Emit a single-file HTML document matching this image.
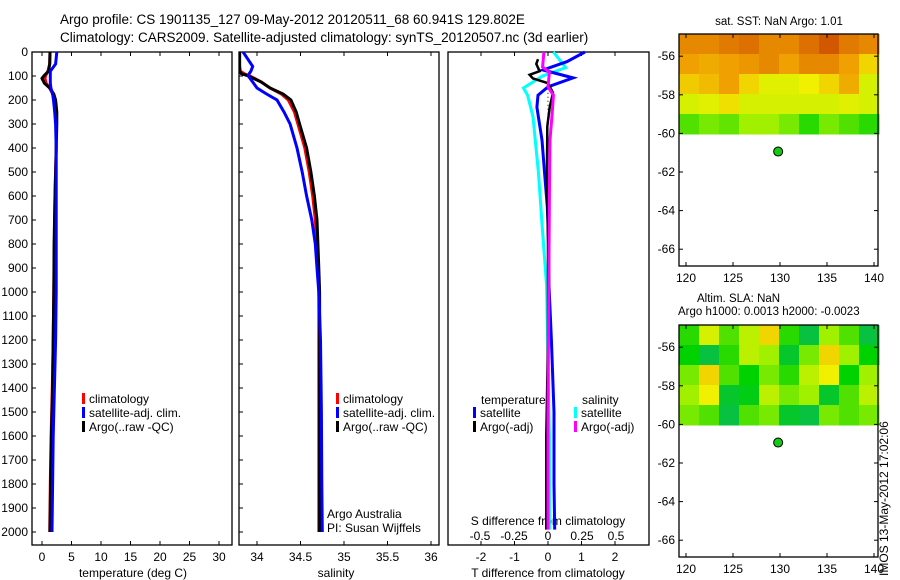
<!DOCTYPE html>
<html><head><meta charset="utf-8"><style>
body{margin:0;background:#fff}
svg{display:block;font-family:"Liberation Sans",sans-serif}
text{fill:#000}
</style></head><body>
<svg id="c" width="900" height="580" viewBox="0 0 900 580" xmlns="http://www.w3.org/2000/svg">
<text x="60" y="24" font-size="13.5">Argo profile: CS 1901135_127 09-May-2012 20120511_68 60.941S 129.802E</text>
<text x="60" y="42" font-size="13.5">Climatology: CARS2009. Satellite-adjusted climatology: synTS_20120507.nc (3d earlier)</text>
<g id="g"></g>
</svg>
<script>
// ---- data ----
const depthTicks=[0,100,200,300,400,500,600,700,800,900,1000,1100,1200,1300,1400,1500,1600,1700,1800,1900,2000];
const tempTicks=[0,5,10,15,20,25,30];
const salTicks=[34,34.5,35,35.5,36];
const tdiffTicks=[-2,-1,0,1,2];
const sdiffTicks=[-0.5,-0.25,0,0.25,0.5];
const sdiffLabels=["-0.5","-0.25","0","0.25","0.5"];
const latTicks=[-56,-58,-60,-62,-64,-66];
const lonTicks=[120,125,130,135,140];

const tDepth=[0,50,80,100,110,130,150,175,200,250,300,400,600,800,1000,1200,1400,1600,1800,2000];
const tArgo=[1.35,1.3,1.1,0.3,0.0,0.4,1.3,2.0,2.3,2.5,2.5,2.4,2.2,2.05,2.0,1.9,1.8,1.6,1.45,1.35];
const tClim=[1.35,1.3,1.0,0.6,0.5,0.7,1.3,1.8,2.1,2.3,2.4,2.4,2.2,2.1,2.0,1.9,1.75,1.55,1.4,1.3];
const tSat=[2.5,2.3,1.4,1.4,1.4,1.4,1.5,1.8,1.95,2.15,2.3,2.4,2.4,2.4,2.4,2.3,2.1,1.9,1.8,1.7];

const sDepth=[0,60,80,90,100,125,150,175,200,250,300,400,500,600,700,800,900,1000,1200,1500,1800,2000];
const sArgo=[33.8,33.8,33.8,33.82,33.9,34.05,34.15,34.3,34.39,34.45,34.49,34.57,34.62,34.66,34.69,34.7,34.71,34.72,34.72,34.72,34.72,34.72];
const sClim=[33.8,33.8,33.81,33.85,33.92,34.05,34.15,34.28,34.36,34.43,34.47,34.55,34.6,34.64,34.67,34.69,34.7,34.71,34.71,34.71,34.71,34.71];
const sSat=[33.84,33.95,33.93,33.91,33.9,33.95,34.0,34.11,34.23,34.31,34.38,34.46,34.52,34.57,34.63,34.67,34.69,34.71,34.73,34.74,34.745,34.75];

const bDepth=[0,40,75,108,145,180,230,367,505,645,780,975,1200,1500,1800,1990];
const tSatDiff=[1.1,0.57,-0.15,0.75,0.0,-0.3,-0.33,-0.18,-0.1,-0.02,0.02,0.03,0.1,0.18,0.18,0.2];
const cDepth=[0,65,100,150,180,270,505,710,975,1300,1600,1990];
const sSatDiff=[0.04,0.13,-0.04,-0.18,-0.15,-0.11,-0.07,-0.045,-0.01,0.0,0.01,0.01];
const kDepth=[30,50,80,95,110,130,170,230,310,500,800,1200,1600,1990];
const tArgoDiff=[-0.3,-0.35,-0.25,-0.55,-0.45,0.0,0.15,0.05,-0.02,-0.03,0.0,0.0,-0.05,-0.05];
const mDepth=[0,62,85,145,180,260,365,600,1000,1500,1990];
const sArgoDiff=[-0.03,-0.04,0.01,0.0,0.04,0.03,0.015,0.01,0.005,0.0,0.0];

const sstGrid=[
[0.85,0.85,0.88,0.9,0.85,0.85,0.9,0.95,0.88,0.85],
[0.8,0.78,0.8,0.82,0.85,0.8,0.85,0.85,0.8,0.7],
[0.72,0.75,0.8,0.7,0.62,0.62,0.65,0.7,0.78,0.6],
[0.6,0.62,0.68,0.6,0.6,0.6,0.6,0.6,0.62,0.6],
[0.4,0.45,0.42,0.5,0.5,0.45,0.35,0.45,0.4,0.35]];
const slaGrid=[
[0.35,0.6,0.4,0.55,0.7,0.35,0.15,0.5,0.4,0.15],
[0.3,0.15,0.35,0.55,0.5,0.2,0.45,0.7,0.5,0.3],
[0.45,0.7,0.4,0.3,0.45,0.35,0.55,0.65,0.3,0.5],
[0.5,0.65,0.2,0.25,0.55,0.45,0.5,0.2,0.4,0.55],
[0.45,0.4,0.15,0.4,0.45,0.2,0.15,0.45,0.4,0.45]];
const argoLon=129.802, argoLat=-60.941;

// ---- helpers ----
const NS="http://www.w3.org/2000/svg";
const G=document.getElementById('g');
function mk(tag,at,parent){const e=document.createElementNS(NS,tag);for(const k in at)e.setAttribute(k,at[k]);(parent||G).appendChild(e);return e;}
function txt(x,y,s,size,anchor){const e=mk('text',{x:x,y:y,'font-size':size||12,'text-anchor':anchor||'start'});e.textContent=s;return e;}
const yD=d=>52+d*0.24;
const PB=545;
const xT=v=>42+v*5.9;
const xS=v=>257+(v-34)*87;
const xTd=v=>548+v*33.5;
const xSd=v=>548+v*136;

function frame(x0,x1,name){const r=mk('rect',{x:x0,y:52,width:x1-x0,height:PB-52,fill:'none',stroke:'#000','stroke-width':1.3});

}
function line(xs,ds,fx,color,w,name){
 const p=xs.map((v,i)=>fx(v).toFixed(1)+','+yD(ds[i]).toFixed(1)).join(' ');
 const e=mk('polyline',{points:p,fill:'none',stroke:color,'stroke-width':w,'stroke-linejoin':'miter'});
 
 
}
function legend(x,y,color,label){
 const r=mk('rect',{x:x,y:y-10,width:3,height:11,fill:color});
 
 
 const t=txt(x+7,y,label,12);
 
 
}

// ---- panel 1 temperature ----
frame(32,232,'temperature-panel');
depthTicks.forEach(d=>{mk('line',{x1:32,x2:36,y1:yD(d),y2:yD(d),stroke:'#000'});
 const t=txt(28,yD(d)+4,String(d),12,'end');
 
 });
tempTicks.forEach(v=>{mk('line',{x1:xT(v),x2:xT(v),y1:52,y2:56,stroke:'#000'});mk('line',{x1:xT(v),x2:xT(v),y1:PB,y2:PB-4,stroke:'#000'});
 const t=txt(xT(v),561,String(v),12,'middle');
 
 });
{const t=txt(133,577,'temperature (deg C)',12,'middle');}
line(tClim,tDepth,xT,'#f00',3,'temp-climatology-line');
line(tArgo,tDepth,xT,'#000',3,'temp-argo-line');
line(tSat,tDepth,xT,'#00f',3,'temp-satellite-line');
legend(82,403,'#f00','climatology');
legend(82,417,'#00f','satellite-adj. clim.');
legend(82,431,'#000','Argo(..raw -QC)');

// ---- panel 2 salinity ----
frame(239,439,'salinity-panel');
depthTicks.forEach(d=>{mk('line',{x1:239,x2:243,y1:yD(d),y2:yD(d),stroke:'#000'});});
salTicks.forEach(v=>{mk('line',{x1:xS(v),x2:xS(v),y1:52,y2:56,stroke:'#000'});mk('line',{x1:xS(v),x2:xS(v),y1:PB,y2:PB-4,stroke:'#000'});
 const t=txt(xS(v),561,String(v),12,'middle');
 
 });
{const t=txt(336,577,'salinity',12,'middle');}
{const c=mk('clipPath',{id:'cp2'});mk('rect',{x:239,y:52,width:200,height:PB-52},c);}
const g2=mk('g',{'clip-path':'url(#cp2)'});
function line2(xs,ds,color,name){const p=xs.map((v,i)=>xS(v).toFixed(1)+','+yD(ds[i]).toFixed(1)).join(' ');
 const e=mk('polyline',{points:p,fill:'none',stroke:color,'stroke-width':3},g2);
 
 }
line2(sClim,sDepth,'#f00','sal-climatology-line');
line2(sArgo,sDepth,'#000','sal-argo-line');
line2(sSat,sDepth,'#00f','sal-satellite-line');
legend(336,403,'#f00','climatology');
legend(336,417,'#00f','satellite-adj. clim.');
legend(336,431,'#000','Argo(..raw -QC)');
{const t=txt(327,518,'Argo Australia',12);
 const u=txt(327,532,'PI: Susan Wijffels',12);}

// ---- panel 3 differences ----
frame(448,649,'difference-panel');
tdiffTicks.forEach(v=>{mk('line',{x1:xTd(v),x2:xTd(v),y1:52,y2:56,stroke:'#000'});mk('line',{x1:xTd(v),x2:xTd(v),y1:PB,y2:PB-4,stroke:'#000'});
 const t=txt(xTd(v),561,String(v),12,'middle');
 
 });
sdiffTicks.forEach((v,i)=>{const t=txt(xSd(v),540,sdiffLabels[i],12,'middle');
 
 });
{const t=txt(548,525,'S difference from climatology',12,'middle');
 const u=txt(548,577,'T difference from climatology',12,'middle');}
{const e=mk('line',{x1:xTd(0),x2:xTd(0),y1:yD(120),y2:yD(360),stroke:'#000','stroke-dasharray':'1,3'});}
line(sSatDiff,cDepth,xSd,'#0ff',3,'sdiff-satellite-line');
line(tSatDiff,bDepth,xTd,'#00f',3,'tdiff-satellite-line');
line(tArgoDiff,kDepth,xTd,'#000',2.5,'tdiff-argo-line');
line(sArgoDiff,mDepth,xSd,'#f0f',3,'sdiff-argo-line');
{const t=txt(481,404,'temperature',12);
 const u=txt(582,404,'salinity',12);}
legend(473,417,'#00f','satellite');
legend(473,431,'#000','Argo(-adj)');
legend(574,417,'#0ff','satellite');
legend(574,431,'#f0f','Argo(-adj)');

// ---- maps ----
const stops=[[0,[16,176,128]],[0.3,[0,210,0]],[0.5,[160,240,0]],[0.65,[240,240,0]],[0.8,[240,160,0]],[1,[200,64,0]]];
function col(v){for(let i=1;i<stops.length;i++){if(v<=stops[i][0]){const a=stops[i-1],b=stops[i],t=(v-a[0])/(b[0]-a[0]);
 return 'rgb('+a[1].map((c,k)=>Math.round(c+(b[1][k]-c)*t)).join(',')+')';}}return 'rgb(200,64,0)';}
function map(top,grid,name,lat0){
 // lat0: latitude at frame top; 19.3 px/deg
 const xL=v=>686+(v-120)*9.4, yL=v=>top+(lat0-v)*19.3;
 const bottom=top+232;
 grid.forEach((row,r)=>row.forEach((v,c)=>{const e=mk('rect',{x:679+c*20,y:top+r*20,width:20.5,height:20.5,fill:col(v)});
  
  }));
 const f=mk('rect',{x:679,y:top,width:199,height:232,fill:'none',stroke:'#000','stroke-width':1.3});
 
 
 latTicks.forEach(v=>{mk('line',{x1:679,x2:683,y1:yL(v),y2:yL(v),stroke:'#000'});mk('line',{x1:874,x2:878,y1:yL(v),y2:yL(v),stroke:'#000'});
  const t=txt(675,yL(v)+4,String(v),12,'end');
  
  });
 lonTicks.forEach(v=>{mk('line',{x1:xL(v),x2:xL(v),y1:bottom,y2:bottom-4,stroke:'#000'});mk('line',{x1:xL(v),x2:xL(v),y1:top,y2:top+4,stroke:'#000'});
  const t=txt(xL(v),bottom+16,String(v),12,'middle');
  
  });
 const d=mk('circle',{cx:xL(argoLon),cy:yL(argoLat),r:4.5,fill:'#1c1',stroke:'#000','stroke-width':1});
 
 
}
map(34,sstGrid,'sst-map',-54.85);
map(325,slaGrid,'sla-map',-54.85);
{const t=txt(779,25,'sat. SST: NaN Argo: 1.01',11.5,'middle');
 const u=txt(697,302,'Altim. SLA: NaN',11.5);
 const w=txt(678,315,'Argo h1000: 0.0013 h2000: -0.0023',11.5);
 const s=mk('text',{x:0,y:0,'font-size':12,transform:'translate(888,576) rotate(-90)'});s.textContent='IMOS 13-May-2012 17:02:06';
 
 }
</script>
</body></html>
